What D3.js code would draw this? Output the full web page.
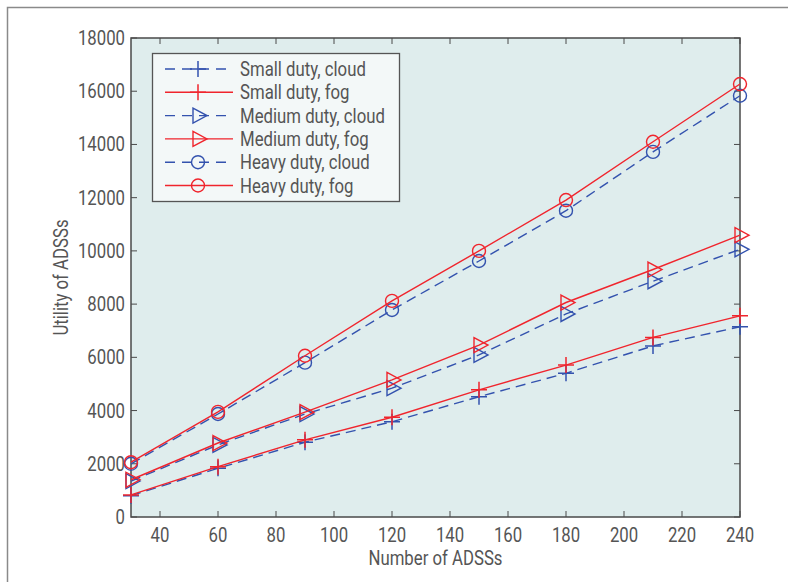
<!DOCTYPE html>
<html><head><meta charset="utf-8">
<script src="https://cdn.jsdelivr.net/npm/d3@7"></script>
<style>
body{margin:0;background:#fff;}
text{font-family:"Roboto","DejaVu Sans",sans-serif;fill:#555;}
</style></head><body>
<svg id="c" width="788" height="582"></svg>
<script>
const xValues = [30, 60, 90, 120, 150, 180, 210, 240];
const smallCloud  = [800, 1830, 2810, 3580, 4520, 5400, 6430, 7150];
const smallFog    = [830, 1890, 2900, 3750, 4780, 5710, 6750, 7560];
const mediumCloud = [1350, 2710, 3870, 4840, 6090, 7630, 8860, 10060];
const mediumFog   = [1400, 2780, 3940, 5150, 6460, 8060, 9300, 10590];
const heavyCloud  = [2000, 3870, 5800, 7780, 9620, 11510, 13720, 15830];
const heavyFog    = [2060, 3950, 6060, 8120, 10000, 11910, 14100, 16270];
const seriesNames = ["Small duty, cloud","Small duty, fog","Medium duty, cloud","Medium duty, fog","Heavy duty, cloud","Heavy duty, fog"];
const xTicks = [40, 60, 80, 100, 120, 140, 160, 180, 200, 220, 240];
const yTicks = [0, 2000, 4000, 6000, 8000, 10000, 12000, 14000, 16000, 18000];

const series = [
  {name: seriesNames[0], values: smallCloud, kind: "cloud", marker: "plus"},
  {name: seriesNames[1], values: smallFog, kind: "fog", marker: "plus"},
  {name: seriesNames[2], values: mediumCloud, kind: "cloud", marker: "tri"},
  {name: seriesNames[3], values: mediumFog, kind: "fog", marker: "tri"},
  {name: seriesNames[4], values: heavyCloud, kind: "cloud", marker: "circle"},
  {name: seriesNames[5], values: heavyFog, kind: "fog", marker: "circle"}
];
const BLUE = "#3352ae", RED = "#f0252d";
const colorOf = k => k === "cloud" ? BLUE : RED;
const SX = 0.86, FS = 19.5;

const svg = d3.select("#c");
function label(parent, tx, ty, str, anchor, rot, color){
  const g = parent.append("g").attr("transform", `translate(${tx},${ty})${rot ? " rotate(" + rot + ")" : ""} scale(${SX},1)`);
  return g.append("text").attr("x",0).attr("y",0).attr("text-anchor",anchor).attr("font-size",FS)
    .attr("fill", color || "#555").text(str);
}
// outer frame
svg.append("rect").attr("x",7.5).attr("y",7.5).attr("width",800).attr("height",600)
  .attr("fill","none").attr("stroke","#8a8a8a").attr("stroke-width",1.5);

const L = 131, R = 740, T = 38, B = 517;
const x = d3.scaleLinear().domain([30, 240]).range([L, R]);
const y = d3.scaleLinear().domain([0, 18000]).range([B, T]);

svg.append("rect").attr("x",L).attr("y",T).attr("width",R-L).attr("height",B-T).attr("fill","#dfeded");

const tickLen = 6;
const axisColor = "#4a4a4a";
const gAx = svg.append("g");
xTicks.forEach(t => {
  gAx.append("line").attr("x1",x(t)).attr("x2",x(t)).attr("y1",B).attr("y2",B-tickLen).attr("stroke",axisColor);
  gAx.append("line").attr("x1",x(t)).attr("x2",x(t)).attr("y1",T).attr("y2",T+tickLen).attr("stroke",axisColor);
  label(gAx, x(t), B+25, t, "middle");
});
yTicks.forEach(t => {
  gAx.append("line").attr("x1",L).attr("x2",L+tickLen).attr("y1",y(t)).attr("y2",y(t)).attr("stroke",axisColor);
  gAx.append("line").attr("x1",R).attr("x2",R-tickLen).attr("y1",y(t)).attr("y2",y(t)).attr("stroke",axisColor);
  label(gAx, L-6, y(t)+7, t, "end");
});
gAx.append("rect").attr("x",L).attr("y",T).attr("width",R-L).attr("height",B-T)
  .attr("fill","none").attr("stroke",axisColor).attr("stroke-width",1.5);

label(svg, (L+R)/2, 565, "Number of ADSSs", "middle");
label(svg, 68, (T+B)/2, "Utility of ADSSs", "middle", -90);

function drawMarker(g, type, cx, cy, color){
  if(type === "plus"){
    g.append("path").attr("d",`M${cx-8},${cy}H${cx+8}M${cx},${cy-8}V${cy+8}`)
      .attr("stroke",color).attr("stroke-width",1.5).attr("fill","none");
  } else if(type === "tri"){
    g.append("path").attr("d",`M${cx-5},${cy-7.5}L${cx+9},${cy}L${cx-5},${cy+7.5}Z`)
      .attr("stroke",color).attr("stroke-width",1.4).attr("fill","none");
  } else {
    g.append("circle").attr("cx",cx).attr("cy",cy).attr("r",6.5)
      .attr("stroke",color).attr("stroke-width",1.4).attr("fill","none");
  }
}

const line = d3.line().x((d,i)=>x(xValues[i])).y(d=>y(d));
const gData = svg.append("g");
series.forEach(s => {
  const c = colorOf(s.kind);
  gData.append("path").datum(s.values).attr("d", line).attr("fill","none")
    .attr("stroke", c).attr("stroke-width", 1.4)
    .attr("stroke-dasharray", s.kind === "cloud" ? "10,6" : null);
  s.values.forEach((v,i) => drawMarker(gData, s.marker, x(xValues[i]), y(v), c));
});

// legend
const lg = svg.append("g");
lg.append("rect").attr("x",152.5).attr("y",53.5).attr("width",247).attr("height",148)
  .attr("fill","#f3f8f8").attr("stroke","#555").attr("stroke-width",1.3);
series.forEach((s,i) => {
  const cy = 69 + i*23.3;
  const c = colorOf(s.kind);
  lg.append("line").attr("x1",165).attr("x2",233).attr("y1",cy).attr("y2",cy)
    .attr("stroke",c).attr("stroke-width",1.4).attr("stroke-dasharray", s.kind === "cloud" ? "10,7" : null);
  drawMarker(lg, s.marker, 198, cy, c);
  label(lg, 240, cy+7, s.name, "start", 0, "#444");
});
</script></body></html>
